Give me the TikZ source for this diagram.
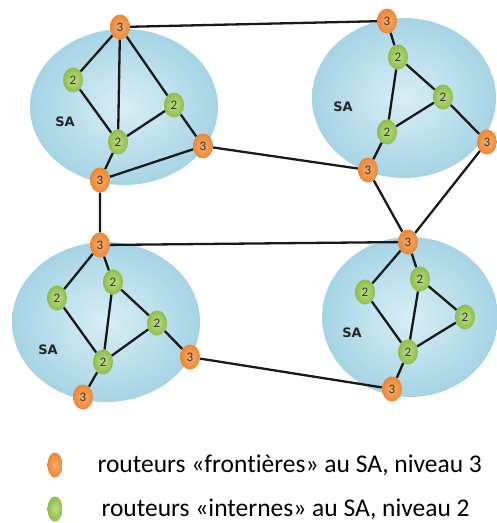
\documentclass[tikz,border=0pt]{standalone}
\usepackage{fontspec}
\setmainfont[Ligatures=NoCommon]{Carlito}
\newfontfamily\safont{DejaVu Sans}
\usetikzlibrary{shapes.geometric}
\definecolor{skyedge}{HTML}{A6D4E5}
\definecolor{skymid}{HTML}{D8EEF5}
\definecolor{orangein}{HTML}{F7AE6E}
\definecolor{orangeout}{HTML}{EC8634}
\definecolor{greenin}{HTML}{C0DD86}
\definecolor{greenout}{HTML}{8CBD4B}
\tikzset{
  saarea/.style={
    inner color=skymid,
    outer color=skyedge,
  },
  router/.style={
    shape = ellipse,
    inner sep = 0pt,
    minimum width = 20pt,
    minimum height = 25pt,
    font = \fontsize{13}{13}\selectfont,
    text = black!80
  },
  frontier/.style={
    router,
    inner color = orangein,
    outer color = orangeout
  },
  internal/.style={
    router,
    inner color = greenin,
    outer color = greenout
  },
  link/.style={
    line width = 2.3pt,
    black!90
  },
  salabel/.style={
    font = \safont\fontsize{13}{13}\selectfont\bfseries,
    text = black!85
  },
  legend/.style={
    font = \fontsize{25.5}{25.5}\selectfont,
    anchor = west
  }
}

\begin{document}
\begin{tikzpicture}[x=1pt,y=-1pt]
        \useasboundingbox (0,0) rectangle (497,523);
        % the four domains
        \shade[saarea] (124,107) ellipse (94 and 78);
        \shade[saarea] (404,98) ellipse (92 and 80);
        \shade[saarea] (106,322) ellipse (94 and 80);
        \shade[saarea] (410,317) ellipse (88 and 80);
        \node[salabel] at (65,122) {SA};
        \node[salabel] at (343,107) {SA};
        \node[salabel] at (48,350) {SA};
        \node[salabel] at (352,333) {SA};
        % top left
        \node[frontier] (a3t) at (120,27) {3};
        \node[internal] (a2l) at (73,80) {2};
        \node[internal] (a2r) at (174,105) {2};
        \node[internal] (a2c) at (118,142) {2};
        \node[frontier] (a3r) at (203,146) {3};
        \node[frontier] (a3b) at (100,180) {3};
        % top right
        \node[frontier] (b3t) at (387,21) {3};
        \node[internal] (b2u) at (398,57) {2};
        \node[internal] (b2r) at (443,97) {2};
        \node[internal] (b2l) at (387,132) {2};
        \node[frontier] (b3r) at (487,142) {3};
        \node[frontier] (b3b) at (368,170) {3};
        % bottom left
        \node[frontier] (c3t) at (100,245) {3};
        \node[internal] (c2l) at (57,298) {2};
        \node[internal] (c2u) at (113,282) {2};
        \node[internal] (c2r) at (157,323) {2};
        \node[internal] (c2c) at (103,362) {2};
        \node[frontier] (c3r) at (190,357) {3};
        \node[frontier] (c3b) at (83,397) {3};
        % bottom right
        \node[frontier] (d3t) at (408,242) {3};
        \node[internal] (d2l) at (365,292) {2};
        \node[internal] (d2u) at (420,279) {2};
        \node[internal] (d2r) at (465,317) {2};
        \node[internal] (d2c) at (408,352) {2};
        \node[frontier] (d3b) at (392,389) {3};
        % links inside
        \draw[link] (a3t)--(a2l) (a3t)--(a2c) (a3t)--(a2r) (a2l)--(a2c)
                    (a2c)--(a2r) (a2r)--(a3r) (a2c)--(a3b) (a3b)--(a3r);
        \draw[link] (b3t)--(b2u) (b2u)--(b2r) (b2u)--(b2l) (b2l)--(b2r)
                    (b2r)--(b3r) (b2l)--(b3b);
        \draw[link] (c3t)--(c2l) (c3t)--(c2u) (c2l)--(c2c) (c2u)--(c2c)
                    (c2u)--(c2r) (c2r)--(c2c) (c2r)--(c3r) (c2c)--(c3b);
        \draw[link] (d3t)--(d2l) (d3t)--(d2u) (d2l)--(d2c) (d2u)--(d2c)
                    (d2u)--(d2r) (d2r)--(d2c) (d2c)--(d3b);
        % links between domains
        \draw[link] (a3t)--(b3t) (a3r)--(b3b) (a3b)--(c3t) (c3t)--(d3t)
                    (b3b)--(d3t) (b3r)--(d3t) (c3r)--(d3b);
        % legend
        \node[frontier, minimum width=15pt, minimum height=25pt] (keyf) at (55,465) {};
        \node[internal, minimum width=15pt, minimum height=25pt] (keyi) at (55,509) {};
        \node[legend] (txtf) at (94,465) {routeurs «frontières» au SA, niveau 3};
        \node[legend] (txti) at (98,509) {routeurs «internes» au SA, niveau 2};
    \end{tikzpicture}
\end{document}
